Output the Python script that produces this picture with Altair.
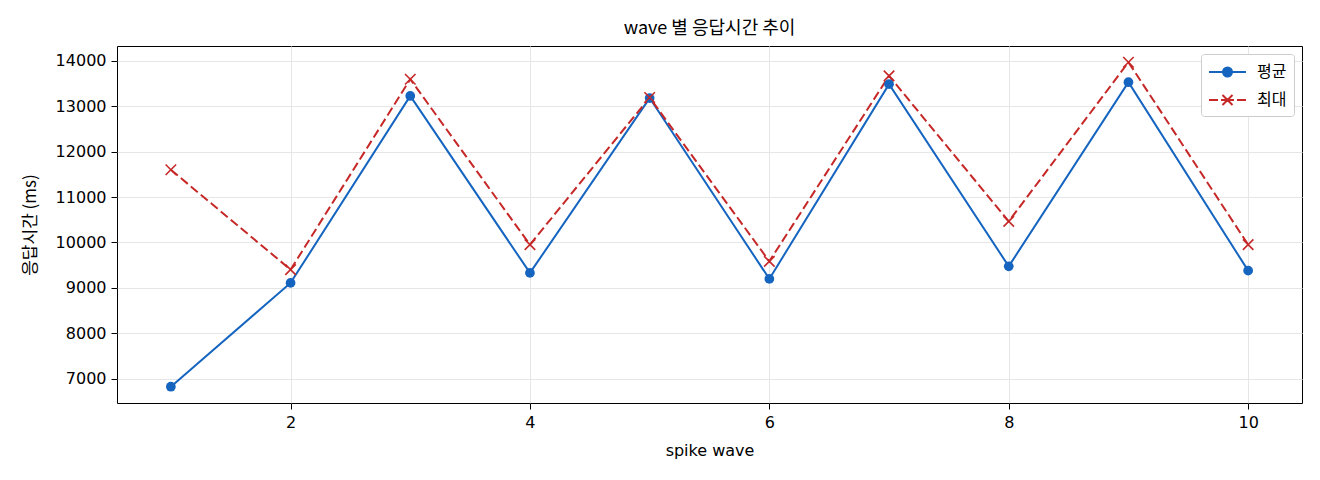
import altair as alt
import pandas as pd

BLUE = "#1565C0"
RED = "#C62828"
KR_FONT = "Noto Sans CJK KR"
NUM_FONT = "DejaVu Sans"

waves = [1, 2, 3, 4, 5, 6, 7, 8, 9, 10]
avg_ms = [6825, 9110, 13225, 9330, 13178, 9198, 13484, 9475, 13527, 9380]
max_ms = [11600, 9402, 13593, 9952, 13190, 9585, 13666, 10464, 13967, 9952]
series = ["평균", "최대"]

x_ticks = [2, 4, 6, 8, 10]
y_ticks = [7000, 8000, 9000, 10000, 11000, 12000, 13000, 14000]

df = pd.concat(
    [
        pd.DataFrame({"wave": waves, "ms": avg_ms, "series": series[0]}),
        pd.DataFrame({"wave": waves, "ms": max_ms, "series": series[1]}),
    ],
    ignore_index=True,
)

# marker / legend symbol paths
X_PATH = "M-1,-1L1,1M-1,1L1,-1"
RING = "M{a},0A{r},{r},0,1,1,{b},0A{r},{r},0,1,1,{a},0"
LEG_AVG = "M-1,0L2.7,0" + "".join(
    RING.format(a=0.85 + r, b=0.85 - r, r=r) for r in (0.45, 0.3, 0.15)
)
LEG_MAX = (
    "M-1,0L-0.1,0M0.2,0L1.5,0M1.8,0L2.7,0"
    "M0.35,-0.5L1.35,0.5M0.35,0.5L1.35,-0.5"
)

x_enc = alt.X(
    "wave:Q",
    title="spike wave",
    scale=alt.Scale(domain=[0.55, 10.45], nice=False, zero=False),
    axis=alt.Axis(values=x_ticks, format="d", titlePadding=12),
)
y_enc = alt.Y(
    "ms:Q",
    title="응답시간 (ms)",
    scale=alt.Scale(domain=[6467, 14324], nice=False, zero=False),
    axis=alt.Axis(
        values=y_ticks, format="d", titleFont=KR_FONT, titleFontSize=17, titlePadding=16
    ),
)

base = alt.Chart(df).encode(x=x_enc, y=y_enc)

avg_line = base.transform_filter(alt.datum.series == "평균").mark_line(
    color=BLUE, strokeWidth=2
)
avg_pts = base.transform_filter(alt.datum.series == "평균").mark_point(
    shape="circle", filled=True, size=95, color=BLUE, opacity=1
)
max_line = base.transform_filter(alt.datum.series == "최대").mark_line(
    color=RED, strokeWidth=2, strokeDash=[9, 4]
)
max_pts = base.transform_filter(alt.datum.series == "최대").mark_point(
    shape=X_PATH, filled=False, size=110, color=RED, strokeWidth=1.6, opacity=1
)

# invisible layer that only carries the legend
legend_layer = base.mark_point(filled=False, opacity=0, strokeWidth=2).encode(
    color=alt.Color(
        "series:N",
        scale=alt.Scale(domain=series, range=[BLUE, RED]),
        legend=alt.Legend(
            title=None,
            orient="top-right",
            offset=8,
            padding=7,
            rowPadding=8,
            symbolSize=400,
            symbolStrokeWidth=2,
            symbolOpacity=1,
            labelOffset=27,
            labelFont=KR_FONT,
            labelFontSize=16,
            labelColor="#000000",
            strokeColor="#cccccc",
            fillColor="white",
            cornerRadius=3,
        ),
    ),
    shape=alt.Shape(
        "series:N",
        scale=alt.Scale(domain=series, range=[LEG_AVG, LEG_MAX]),
    ),
)

chart = (
    alt.layer(avg_line, max_line, avg_pts, max_pts, legend_layer)
    .properties(
        width=1185,
        height=357,
        autosize=alt.AutoSizeParams(type="none"),
        padding={"left": 109, "top": 38, "right": 10, "bottom": 70},
        title=alt.TitleParams(
            "wave 별 응답시간 추이",
            font=KR_FONT,
            fontSize=18,
            fontWeight="normal",
            color="#000000",
            offset=8,
        ),
    )
    .configure_view(stroke="#000000", strokeWidth=1)
    .configure_axis(
        domain=False,
        grid=True,
        gridColor="#e6e6e6",
        gridWidth=1,
        tickColor="#000000",
        tickSize=6,
        labelFont=NUM_FONT,
        labelFontSize=16,
        labelColor="#000000",
        labelPadding=5,
        titleFont=NUM_FONT,
        titleFontSize=16,
        titleFontWeight="normal",
        titleColor="#000000",
    )
)

chart.save("out.html", embed_options={"renderer": "svg", "actions": False})
